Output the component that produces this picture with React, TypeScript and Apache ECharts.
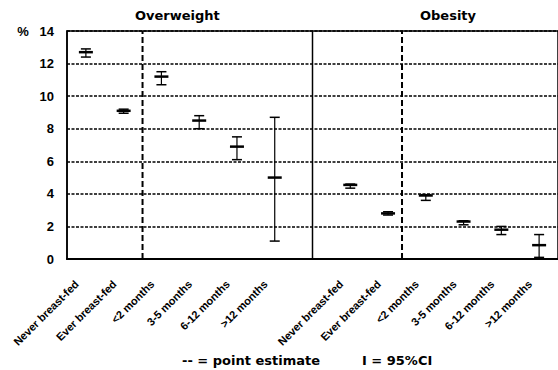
import React, { useEffect, useRef } from "react";
import * as echarts from "echarts";

const groupLabels = ["Never breast-fed", "Ever breast-fed", "<2 months", "3-5 months", "6-12 months", ">12 months"];
const categories = [...groupLabels, "", ...groupLabels];

const overweightEst = [12.7, 9.1, 11.2, 8.5, 6.9, 5.0];
const overweightLo = [12.4, 8.95, 10.7, 8.0, 6.1, 1.1];
const overweightHi = [12.9, 9.2, 11.5, 8.8, 7.5, 8.7];

const obesityEst = [4.55, 2.8, 3.9, 2.3, 1.8, 0.85];
const obesityLo = [4.35, 2.7, 3.6, 2.1, 1.5, 0.1];
const obesityHi = [4.6, 2.9, 3.95, 2.35, 2.0, 1.5];

const yTicks = [0, 2, 4, 6, 8, 10, 12, 14];

const FONT = "'Liberation Sans', Arial, sans-serif";
const WIDE = "'DejaVu Sans', sans-serif";

export default function App() {
  const ref = useRef<HTMLDivElement>(null);
  useEffect(() => {
    if (!ref.current) return;
    const chart = echarts.init(ref.current, null, { renderer: "svg" });

    const errData: number[][] = [];
    overweightEst.forEach((v, i) => errData.push([i, v, overweightLo[i], overweightHi[i]]));
    obesityEst.forEach((v, i) => errData.push([i + 7, v, obesityLo[i], obesityHi[i]]));

    // separators: [left index, right index, fraction, dashed]
    const separators = [
      [1, 2, 0.5, 1],
      [6, 6, 0, 0],
      [8, 9, 0.37, 1],
    ];

    chart.setOption({
      animation: false,
      backgroundColor: "#fff",
      grid: {
        left: 67,
        right: -5,
        top: 31,
        bottom: 111,
        show: true,
        borderColor: "#000",
        borderWidth: 1.5,
      },
      graphic: [
        { type: "text", left: 135, top: 9, style: { text: "Overweight", font: `bold 13px ${WIDE}`, fill: "#000" } },
        { type: "text", left: 420, top: 9, style: { text: "Obesity", font: `bold 13px ${WIDE}`, fill: "#000" } },
        { type: "text", left: 182, top: 354, style: { text: "-- = point estimate", font: `bold 13px ${WIDE}`, fill: "#000" } },
        { type: "text", left: 362, top: 354, style: { text: "I = 95%CI", font: `bold 13px ${WIDE}`, fill: "#000" } },
      ],
      xAxis: {
        type: "category",
        data: categories,
        boundaryGap: true,
        axisLine: { show: true, lineStyle: { color: "#000", width: 2 } },
        axisTick: { show: false },
        splitLine: { show: false },
        axisLabel: {
          interval: 0,
          rotate: 45,
          margin: 14,
          padding: [0, 13, 0, 0],
          color: "#000",
          fontWeight: "bold",
          fontSize: 11,
          fontFamily: FONT,
        },
      },
      yAxis: {
        type: "value",
        min: yTicks[0],
        max: yTicks[yTicks.length - 1],
        interval: 2,
        axisLine: { show: true, lineStyle: { color: "#000", width: 1.5 } },
        axisTick: { show: false },
        axisLabel: {
          margin: 13,
          color: "#000",
          fontWeight: "bold",
          fontSize: 13,
          fontFamily: FONT,
          formatter: (v: number) => (v === 14 ? "%   14" : String(v)),
        },
        splitLine: {
          show: true,
          lineStyle: { color: "#000", width: 1.5, type: [3, 1.5] },
        },
      },
      series: [
        {
          type: "custom",
          data: separators,
          silent: true,
          z: 3,
          renderItem: (params: any, api: any) => {
            const a = api.value(0);
            const b = api.value(1);
            const f = api.value(2);
            const dashed = api.value(3);
            const xa = api.coord([a, 0])[0];
            const xb = api.coord([b, 0])[0];
            const x = xa + (xb - xa) * f;
            const y0 = api.coord([a, 0])[1];
            const y1 = api.coord([a, 14])[1];
            return {
              type: "line",
              shape: { x1: x, y1: y0, x2: x, y2: y1 },
              style: {
                stroke: "#000",
                lineWidth: dashed ? 2 : 1.5,
                lineDash: dashed ? [6, 3] : null,
              },
            };
          },
        },
        {
          type: "custom",
          data: errData,
          z: 5,
          renderItem: (params: any, api: any) => {
            const idx = api.value(0);
            const est = api.coord([idx, api.value(1)]);
            const lo = api.coord([idx, api.value(2)]);
            const hi = api.coord([idx, api.value(3)]);
            const x = est[0];
            const cap = 5;
            const dash = 7;
            return {
              type: "group",
              children: [
                { type: "line", shape: { x1: x, y1: lo[1], x2: x, y2: hi[1] }, style: { stroke: "#000", lineWidth: 1.2 } },
                { type: "line", shape: { x1: x - cap, y1: lo[1], x2: x + cap, y2: lo[1] }, style: { stroke: "#000", lineWidth: 1.5 } },
                { type: "line", shape: { x1: x - cap, y1: hi[1], x2: x + cap, y2: hi[1] }, style: { stroke: "#000", lineWidth: 1.5 } },
                { type: "line", shape: { x1: x - dash, y1: est[1], x2: x + dash, y2: est[1] }, style: { stroke: "#000", lineWidth: 2.5 } },
              ],
            };
          },
        },
      ],
    });
    return () => chart.dispose();
  }, []);
  return (
    <div
      ref={ref}
      style={{ position: "absolute", left: 0, top: 0, width: 558, height: 370, background: "#fff" }}
    />
  );
}
